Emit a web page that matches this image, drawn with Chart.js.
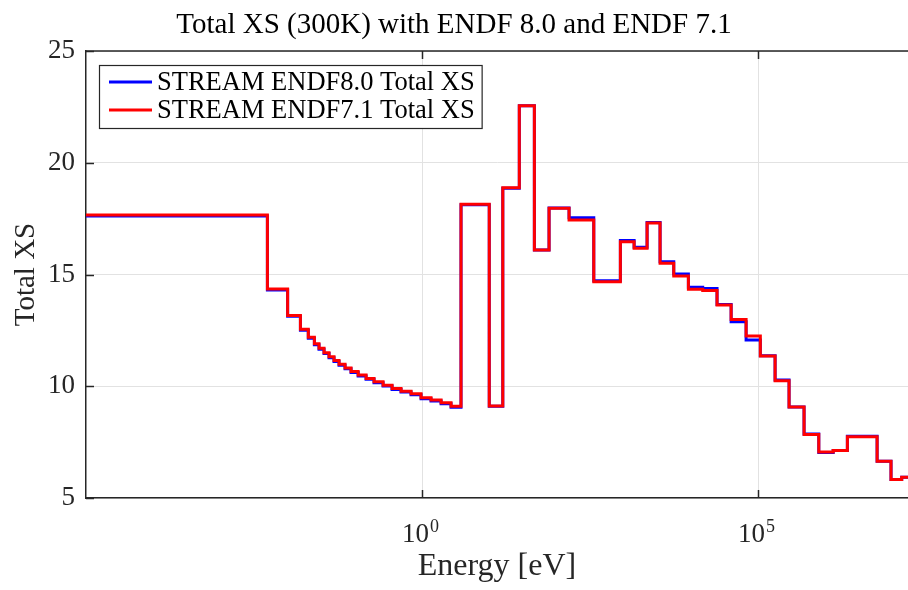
<!DOCTYPE html>
<html>
<head>
<meta charset="utf-8">
<script src="https://cdn.jsdelivr.net/npm/chart.js@4.4.0/dist/chart.umd.min.js"></script>
<style>
  html, body { margin: 0; padding: 0; background: #ffffff; overflow: hidden; }
  #wrap { width: 908px; height: 590px; position: relative; }
</style>
</head>
<body>
<div id="wrap"><canvas id="xs" width="908" height="590"></canvas></div>
<script>
// Lower energy bound of each group [eV]; the last group ends at upperEnergy.
const groupLowerEnergy = [
  1e-5, 5.0e-3, 1.0e-2, 1.55e-2, 2.03e-2, 2.5e-2, 2.93e-2, 3.48e-2, 4.13e-2, 4.9e-2,
  5.82e-2, 7.15e-2, 8.78e-2, 0.112, 0.147, 0.193, 0.263, 0.358, 0.487, 0.686,
  0.966, 1.36, 1.92, 2.70, 3.8, 10.0, 15.9, 28.0, 46.9, 77.6,
  154, 359, 893, 1430, 2230, 3480, 5560, 9180, 1.5e4, 2.45e4,
  3.97e4, 6.63e4, 1.08e5, 1.79e5, 2.89e5, 4.83e5, 8.0e5, 1.31e6, 2.13e6, 5.9e6,
  9.5e6, 1.37e7
];
const upperEnergy = 2e7;

// Group-wise total cross sections
const xsEndf80 = [
  17.62, 14.31, 13.13, 12.51, 12.15, 11.86, 11.66, 11.46, 11.28, 11.11,
  10.94, 10.78, 10.62, 10.46, 10.31, 10.16, 10.01, 9.86, 9.74, 9.62,
  9.44, 9.34, 9.22, 9.06, 18.12, 9.10, 18.86, 22.55, 16.10, 17.98,
  17.54, 14.72, 16.52, 16.22, 17.33, 15.57, 15.02, 14.43, 14.37, 13.66,
  12.89, 12.07, 11.37, 10.28, 9.07, 7.86, 7.04, 7.12, 7.76, 6.64,
  5.83, 5.93
];
const xsEndf71 = [
  17.66, 14.35, 13.17, 12.55, 12.19, 11.90, 11.70, 11.50, 11.32, 11.15,
  10.98, 10.82, 10.66, 10.50, 10.35, 10.20, 10.05, 9.90, 9.78, 9.66,
  9.48, 9.38, 9.26, 9.10, 18.14, 9.12, 18.88, 22.55, 16.10, 17.96,
  17.44, 14.68, 16.47, 16.17, 17.30, 15.50, 14.93, 14.34, 14.28, 13.64,
  12.99, 12.25, 11.35, 10.25, 9.07, 7.84, 7.06, 7.13, 7.74, 6.64,
  5.83, 5.93
];

const seriesLabels = ['STREAM ENDF8.0 Total XS', 'STREAM ENDF7.1 Total XS'];
const xTickValues = [1, 1e5];
const xTickExponents = ['0', '5'];
const yTickValues = [5, 10, 15, 20, 25];

const SERIF = '"Liberation Serif", "Times New Roman", serif';
const AXIS_COLOR = '#262626';

// Step-histogram points: each group value holds from its lower bound to the next one.
function stepPoints(values) {
  const pts = groupLowerEnergy.map((e, i) => ({ x: e, y: values[i] }));
  pts.push({ x: upperEnergy, y: values[values.length - 1] });
  return pts;
}

// Box top edge, inward tick marks, 10^n tick labels and the boxed legend.
const axesDecor = {
  id: 'axesDecor',
  afterDraw(chart) {
    const { ctx, chartArea: a, scales: { x, y } } = chart;
    ctx.save();
    ctx.strokeStyle = AXIS_COLOR;
    ctx.lineWidth = 1.5;
    const seg = (x1, y1, x2, y2) => { ctx.beginPath(); ctx.moveTo(x1, y1); ctx.lineTo(x2, y2); ctx.stroke(); };
    seg(a.left, a.top, a.right + 2, a.top);
    xTickValues.forEach(v => {
      const px = Math.round(x.getPixelForValue(v)) + 0.5;
      seg(px, a.bottom, px, a.bottom - 8);
      seg(px, a.top, px, a.top + 8);
    });
    yTickValues.forEach(v => {
      const py = Math.round(y.getPixelForValue(v)) + 0.5;
      seg(a.left, py, a.left + 8, py);
    });

    // tick labels as 10 with a raised exponent
    ctx.fillStyle = AXIS_COLOR;
    ctx.textBaseline = 'alphabetic';
    ctx.textAlign = 'left';
    xTickValues.forEach((v, i) => {
      const px = x.getPixelForValue(v);
      ctx.font = '27px ' + SERIF;
      const wBase = ctx.measureText('10').width;
      ctx.font = '18px ' + SERIF;
      const wExp = ctx.measureText(xTickExponents[i]).width;
      const start = px - (wBase + wExp) / 2 - 2;
      ctx.font = '27px ' + SERIF;
      ctx.fillText('10', start, 542);
      ctx.font = '18px ' + SERIF;
      ctx.fillText(xTickExponents[i], start + wBase + 1, 532);
    });

    // legend
    ctx.font = '26.5px ' + SERIF;
    const textW = Math.max(...chart.data.datasets.map(d => ctx.measureText(d.label).width));
    const bx = 99, by = 65, lineLen = 43, gap = 5;
    const bw = 10 + lineLen + gap + textW + 7, bh = 63;
    ctx.fillStyle = '#ffffff';
    ctx.fillRect(bx, by, bw, bh);
    ctx.lineWidth = 1.2;
    ctx.strokeStyle = AXIS_COLOR;
    ctx.strokeRect(bx + 0.5, by + 0.5, bw, bh);
    chart.data.datasets.forEach((d, i) => {
      const cy = by + 17 + i * 28;
      ctx.strokeStyle = d.borderColor;
      ctx.lineWidth = 3;
      seg(bx + 10, cy, bx + 10 + lineLen, cy);
      ctx.fillStyle = '#000000';
      ctx.textBaseline = 'middle';
      ctx.fillText(d.label, bx + 10 + lineLen + gap, cy + 1);
    });
    ctx.restore();
  }
};

new Chart(document.getElementById('xs'), {
  type: 'line',
  data: {
    datasets: [
      { label: seriesLabels[0], data: stepPoints(xsEndf80), borderColor: '#0000ff', borderWidth: 3,
        stepped: 'before', pointRadius: 0, fill: false, order: 1 },
      { label: seriesLabels[1], data: stepPoints(xsEndf71), borderColor: '#ff0000', borderWidth: 3,
        stepped: 'before', pointRadius: 0, fill: false, order: 0 }
    ]
  },
  options: {
    responsive: false,
    animation: false,
    events: [],
    layout: { padding: 0 },
    plugins: {
      legend: { display: false },
      tooltip: { enabled: false },
      title: {
        display: true,
        text: 'Total XS (300K) with ENDF 8.0 and ENDF 7.1',
        color: '#000000',
        font: { family: SERIF, size: 29, weight: 'normal' },
        padding: { top: 8, bottom: 8.2 }
      }
    },
    scales: {
      x: {
        type: 'logarithmic',
        min: 1e-5,
        max: 1.7e7,
        afterBuildTicks: s => { s.ticks = xTickValues.map(v => ({ value: v })); },
        afterFit: s => { s.height = 92; },
        ticks: { display: false },
        grid: { color: '#e2e2e2', lineWidth: 1, drawTicks: false },
        border: { color: AXIS_COLOR, width: 1.5 },
        title: {
          display: true, text: 'Energy [eV]', color: AXIS_COLOR,
          font: { family: SERIF, size: 32, weight: 'normal' },
          padding: { top: 0, bottom: 4 }
        }
      },
      y: {
        min: 5,
        max: 25,
        afterBuildTicks: s => { s.ticks = yTickValues.map(v => ({ value: v })); },
        afterFit: s => { s.width = 86; },
        ticks: {
          color: AXIS_COLOR, padding: 11,
          font: { family: SERIF, size: 27 }
        },
        grid: { color: '#e2e2e2', lineWidth: 1, drawTicks: false },
        border: { color: AXIS_COLOR, width: 1.5 },
        title: {
          display: true, text: 'Total XS', color: AXIS_COLOR,
          font: { family: SERIF, size: 29, weight: 'normal' },
          padding: { top: 9, bottom: 0 }
        }
      }
    }
  },
  plugins: [axesDecor]
});
</script>
</body>
</html>
